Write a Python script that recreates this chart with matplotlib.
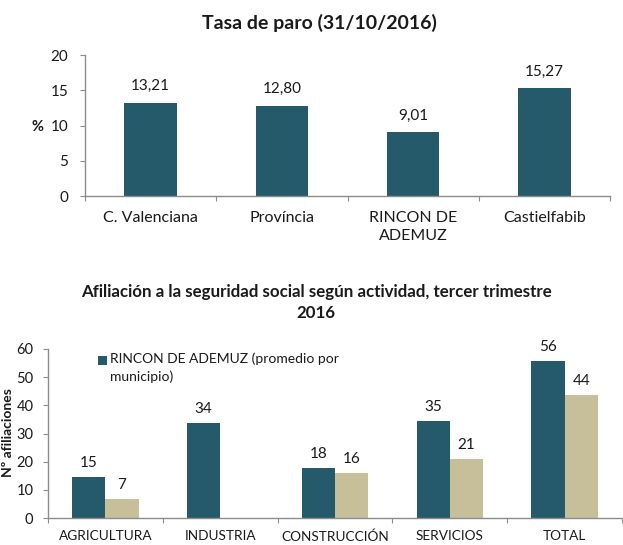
import matplotlib
matplotlib.use("Agg")
import matplotlib.pyplot as plt
from matplotlib.patches import Rectangle
import numpy as np

plt.rcParams['font.family'] = ['Lato', 'DejaVu Sans']

# --- Data ---
paro_categories = ["C. Valenciana", "Província", "RINCON DE\nADEMUZ", "Castielfabib"]
paro_values = [13.21, 12.80, 9.01, 15.27]

afil_categories = ["AGRICULTURA", "INDUSTRIA", "CONSTRUCCIÓN", "SERVICIOS", "TOTAL"]
afil_rincon = [14.6, 33.6, 17.8, 34.6, 55.9]
afil_castielfabib = [6.8, np.nan, 16.0, 20.9, 43.7]
legend_label = "RINCON DE ADEMUZ (promedio por\nmunicipio)"

DARK = "#245a69"
TAN = "#c6bf99"
AXC = "#8c8c8c"
TXT = "#1a1a1a"

W, H = 623, 545
fig = plt.figure(figsize=(W / 100, H / 100), dpi=100)

def px(x, y):
    return x / W, 1 - y / H

def style_axes(ax, n, ylabsize, ypad):
    for s in ["top", "right"]:
        ax.spines[s].set_visible(False)
    for s in ["left", "bottom"]:
        ax.spines[s].set_color(AXC)
        ax.spines[s].set_linewidth(1.0)
    ax.set_xlim(-0.5, n - 0.5)
    ax.set_xticks(np.arange(-0.5, n, 1.0))
    ax.set_xticklabels([])
    ax.tick_params(axis="x", which="major", length=3.5, color=AXC, direction="out")
    ax.tick_params(axis="y", which="major", length=3.5, color=AXC, direction="out",
                   labelsize=ylabsize, labelcolor=TXT, pad=ypad)

# --- Top chart ---
ax1 = fig.add_axes([85 / W, 1 - 196 / H, (610 - 85) / W, (196 - 55) / H])
x1 = np.arange(len(paro_categories))
ax1.bar(x1, paro_values, width=0.4, color=DARK)
style_axes(ax1, len(paro_categories), 11, 8.5)
ax1.set_ylim(0, 20)
ax1.set_yticks([0, 5, 10, 15, 20])
ax1.set_xticks(x1, minor=True)
ax1.set_xticklabels(paro_categories, minor=True, fontsize=11.5, color=TXT)
for t in ax1.get_xticklabels(minor=True):
    t.set_linespacing(1.35)
ax1.tick_params(axis="x", which="minor", length=0, pad=11)
for xi, v in zip(x1, paro_values):
    ax1.annotate(f"{v:.2f}".replace(".", ","), (xi, v), xytext=(0, 7),
                 textcoords="offset points", ha="center", va="bottom",
                 fontsize=11, color=TXT)
fig.text(*px(37, 127), "%", fontsize=10.5, fontweight="bold",
         ha="center", va="center", color=TXT)
fig.text(*px(319, 23), "Tasa de paro (31/10/2016)", fontsize=14,
         fontweight="bold", ha="center", va="center", color=TXT)

# --- Bottom chart ---
ax2 = fig.add_axes([48 / W, 1 - 518 / H, (622 - 48) / W, (518 - 349) / H])
x2 = np.arange(len(afil_categories))
bw = 0.29
b1 = ax2.bar(x2 - bw / 2, afil_rincon, width=bw, color=DARK, label=legend_label)
b2 = ax2.bar(x2 + bw / 2, afil_castielfabib, width=bw, color=TAN)
style_axes(ax2, len(afil_categories), 10.5, 7)
ax2.set_ylim(0, 60)
ax2.set_yticks(np.arange(0, 61, 10))
ax2.set_xticks(x2, minor=True)
ax2.set_xticklabels(afil_categories, minor=True, fontsize=9.8, color=TXT)
ax2.tick_params(axis="x", which="minor", length=0, pad=9)
for xs, vals in ((x2 - bw / 2, afil_rincon), (x2 + bw / 2, afil_castielfabib)):
    for xi, v in zip(xs, vals):
        if np.isnan(v):
            continue
        ax2.annotate(f"{int(round(v))}", (xi, v), xytext=(0, 5),
                     textcoords="offset points", ha="center", va="bottom",
                     fontsize=11, color=TXT)
fig.text(*px(8, 433), "Nº afiliaciones", fontsize=10, fontweight="bold",
         rotation=90, ha="center", va="center", color=TXT)
fig.text(*px(316, 302.5),
         "Afiliación a la seguridad social según actividad, tercer trimestre\n2016",
         fontsize=12.2, fontweight="bold", ha="center", va="center", color=TXT,
         linespacing=1.4)

# legend (single visible entry, no frame)
lx, ly = px(98, 365)
fig.patches.append(Rectangle((lx, ly), 9 / W, 9 / H, transform=fig.transFigure,
                             facecolor=DARK, edgecolor="none", figure=fig))
fig.text(*px(110, 352), legend_label, fontsize=10, color=TXT,
         ha="left", va="top", linespacing=1.6)

fig.savefig("out.png", dpi=100)
